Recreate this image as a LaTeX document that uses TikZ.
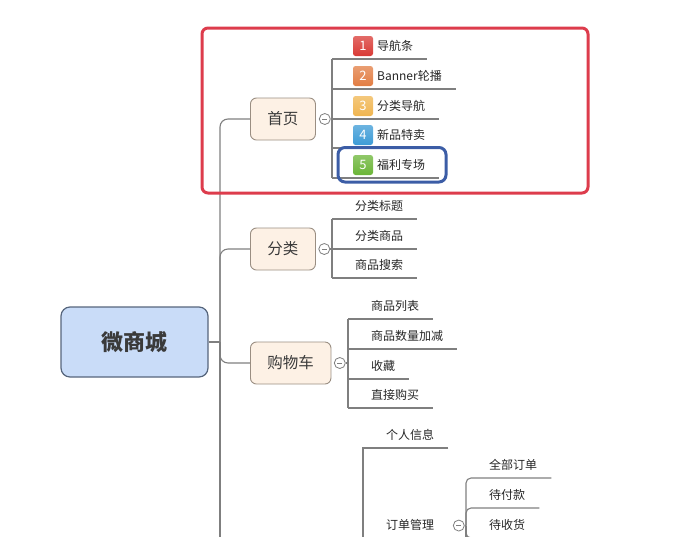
\documentclass[tikz,border=0pt]{standalone}
\usepackage{fontspec}
\newfontfamily\cjk{Noto Sans CJK SC}
\usetikzlibrary{positioning}
\definecolor{linegray}{HTML}{7F7F7F}
\definecolor{topicfill}{HTML}{FDF1E5}
\definecolor{topicline}{HTML}{9A8E82}
\definecolor{rootfill}{HTML}{C9DCF8}
\definecolor{rootline}{HTML}{56657C}
\definecolor{textgray}{HTML}{3A3A3A}
\definecolor{boxred}{HTML}{DD3C4C}
\definecolor{boxblue}{HTML}{3C5DA6}
\definecolor{badgeA}{HTML}{D93A35}
\definecolor{badgeB}{HTML}{E27D43}
\definecolor{badgeC}{HTML}{F0B550}
\definecolor{badgeD}{HTML}{3C9BD6}
\definecolor{badgeE}{HTML}{6BB537}

\begin{document}
\begin{tikzpicture}[x=1pt, y=-1pt, font=\cjk,
    conn/.style={draw=linegray, line width=1.1pt},
    root/.style={draw=rootline, fill=rootfill, rounded corners=9pt, line width=1.2pt,
        minimum width=147pt, minimum height=70pt, text=textgray,
        font=\cjk\bfseries\fontsize{22}{26}\selectfont},
    topic/.style={draw=topicline, fill=topicfill, rounded corners=6pt, line width=0.9pt,
        minimum height=42pt, inner xsep=17pt, text=textgray,
        font=\cjk\fontsize{15.5}{18}\selectfont},
    leaf/.style={anchor=south west, inner xsep=0pt, inner ysep=6pt,
        text height=10pt, text depth=2.5pt, text=black!85,
        font=\cjk\fontsize{12}{14}\selectfont,
        execute at begin node={\hspace*{#1}}, execute at end node={\hspace*{14pt}}},
    leaf/.default=23pt,
    badge/.style={top color=#1!75!white, bottom color=#1, rounded corners=2.5pt,
        minimum size=20pt, inner sep=0pt, text=white,
        font=\cjk\fontsize{13}{13}\selectfont},
    fold/.style={circle, draw=linegray, fill=white, line width=0.8pt,
        minimum size=11pt, inner sep=0pt,
        path picture={\draw[linegray, line width=0.8pt]
            ([xshift=-2.5pt]path picture bounding box.center) --
            ([xshift=2.5pt]path picture bounding box.center);}}
]
    \useasboundingbox (0,0) rectangle (700,536);
    \clip (0,0) rectangle (700,536);

    % main topics
    \node[root] (mall) at (134.5,342) {微商城};
    \node[topic, anchor=west] (home) at (250,119) {首页};
    \node[topic, anchor=west] (cate) at (250,249) {分类};
    \node[topic, anchor=west] (cart) at (250,363) {购物车};
    \node[fold, right=3pt of home] (fhome) {};
    \node[fold, right=2.5pt of cate] (fcate) {};
    \node[fold, right=2.5pt of cart] (fcart) {};

    \coordinate (trunk) at (220,342);
    \draw[conn] (mall.east) -- (trunk);
    \draw[conn, rounded corners=8pt] (trunk) |- (home);
    \draw[conn, rounded corners=8pt] (trunk) |- (cate);
    \draw[conn, rounded corners=8pt] (trunk) |- (cart);
    \draw[conn] (trunk) -- (220,545);

    % home
    \node[leaf=45pt] (h1) at (332,59) {导航条};
    \node[leaf=45pt] (h2) at (332,89) {Banner轮播};
    \node[leaf=45pt] (h3) at (332,119) {分类导航};
    \node[leaf=45pt] (h4) at (332,148) {新品特卖};
    \node[leaf=45pt] (h5) at (332,178) {福利专场};
    \foreach \i/\c in {1/badgeA, 2/badgeB, 3/badgeC, 4/badgeD, 5/badgeE}
        \node[badge=\c] (b\i) at ([xshift=31pt, yshift=13pt]h\i.south west) {\i};
    \foreach \n in {h1, h2, h3, h4, h5}
        \draw[conn] (\n.south west) -- (\n.south east);
    \draw[conn] (h1.south west) -- (h5.south west);
    \draw[conn] (fhome) -- (fhome -| h1.south west);

    % cate
    \node[leaf] (c1) at (332,219) {分类标题};
    \node[leaf] (c2) at (332,249) {分类商品};
    \node[leaf] (c3) at (332,278) {商品搜索};
    \foreach \n in {c1, c2, c3}
        \draw[conn] (\n.south west) -- (\n.south east);
    \draw[conn] (c1.south west) -- (c3.south west);
    \draw[conn] (fcate) -- (fcate -| c1.south west);

    % cart
    \node[leaf] (k1) at (348,319) {商品列表};
    \node[leaf] (k2) at (348,349) {商品数量加减};
    \node[leaf] (k3) at (348,379) {收藏};
    \node[leaf] (k4) at (348,408) {直接购买};
    \foreach \n in {k1, k2, k3, k4}
        \draw[conn] (\n.south west) -- (\n.south east);
    \draw[conn] (k1.south west) -- (k4.south west);
    \draw[conn] (fcart) -- (fcart -| k1.south west);

    % mine
    \node[leaf] (p1) at (363,448) {个人信息};
    \node[leaf] (p2) at (363,538) {订单管理};
    \draw[conn] (p1.south east) -- (p1.south west) -- (p2.south west) -- (p2.south east);
    \draw[conn] (p2.south west) -- (363,560);
    \node[fold, right=4.5pt of p2] (forder) {};

    \node[leaf] (o1) at (466,478) {全部订单};
    \node[leaf] (o2) at (466,508) {待付款};
    \node[leaf] (o3) at (466,538) {待收货};
    \coordinate (ojoin) at (forder -| o1.south west);
    \draw[conn] (forder) -- (ojoin);
    \draw[conn, rounded corners=5pt] (ojoin) |- (o1.south east);
    \draw[conn, rounded corners=5pt] (ojoin) |- (o2.south east);
    \draw[conn, rounded corners=5pt] (ojoin) |- (o3.south east);
    \draw[conn] (ojoin) -- (466,560);

    % highlight
    \draw[boxred, line width=3pt, rounded corners=6pt] (202,28) rectangle (588,193);
    \draw[boxblue, line width=3pt, rounded corners=7pt] (338,147.5) rectangle (446,182);
\end{tikzpicture}
\end{document}
